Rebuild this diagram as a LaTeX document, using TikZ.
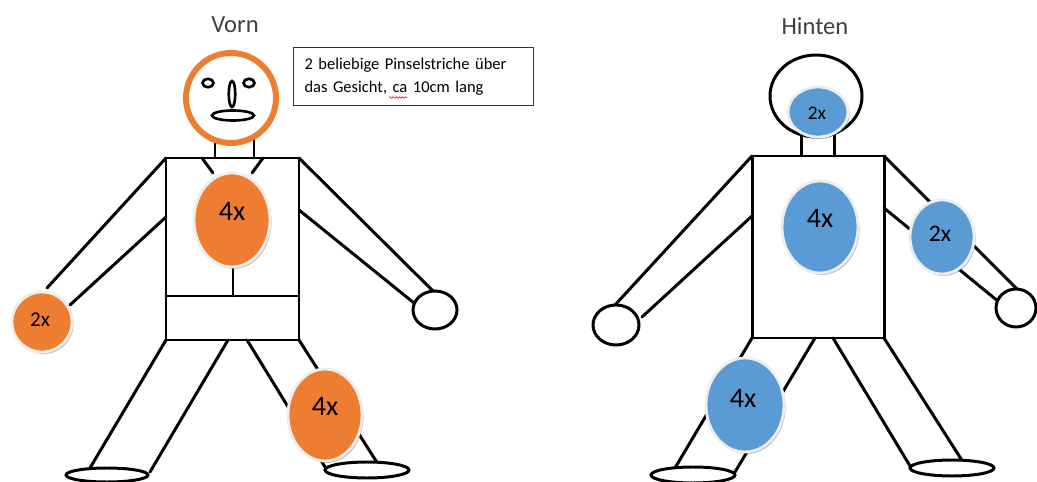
\documentclass[tikz,border=0pt]{standalone}
\usepackage{fontspec}
\setmainfont{Carlito}
\usetikzlibrary{shapes.geometric,shadows,decorations.pathmorphing}
\definecolor{spotorange}{HTML}{ED7D31}
\definecolor{spotblue}{HTML}{5B9BD5}
\definecolor{titlegray}{HTML}{404040}
\begin{document}
\begin{tikzpicture}[x=0.02cm,y=-0.02cm,
  limb/.style={line width=1.7pt,line cap=round},
  oval/.style 2 args={ellipse,draw,fill=white,line width=1.7pt,inner sep=0pt,
    minimum width={2*#1*0.02cm},minimum height={2*#2*0.02cm}},
  spot/.style 2 args={ellipse,inner sep=0pt,draw=white!93!black,line width=1.6pt,
    minimum width={2*#1*0.02cm},minimum height={2*#2*0.02cm},
    drop shadow={shadow xshift=0.9pt,shadow yshift=-1.1pt,opacity=0.45,fill=black!60}},
  orangespot/.style={fill=spotorange},
  bluespot/.style={fill=spotblue},
  count/.style={inner sep=0pt,font=\fontsize{#1}{#1}\selectfont},
  title/.style={text=titlegray,inner sep=0pt,anchor=base,font=\fontsize{14}{16}\selectfont},
  face/.style={line width=1.5pt},
]
\useasboundingbox (0,0) rectangle (1037,482);

% ---------------- front figure ----------------
\node[title] (vorn) at (235,33) {Vorn};

% torso with belt, collar and centre seam
\draw[limb] (166,158) rectangle (299,340);
\draw[limb] (166,296) -- (299,296);
\draw[limb] (233,262) -- (233,296);
\draw[limb] (202,158) -- (213,173);
\draw[limb] (263,158) -- (252,173);
% neck
\draw[limb] (215,136) -- (215,158);
\draw[limb] (254,136) -- (254,158);
% arms
\draw[limb] (166,158) -- (47,288);
\draw[limb] (166,217) -- (70,305);
\draw[limb] (299,158) -- (433,291);
\draw[limb] (299,210) -- (414,303);
\node[oval={22}{19}] (fhandR) at (435,310) {};
% legs and feet
\draw[limb] (166,340) -- (90,468);
\draw[limb] (228,340) -- (150,472);
\draw[limb] (247,340) -- (325,467);
\draw[limb] (299,340) -- (378,464);
\node[oval={41}{7}] (ffootL) at (107,475) {};
\node[oval={42}{8}] (ffootR) at (367,470) {};

% head: orange ring with face
\node[circle,draw=spotorange,fill=white,line width=3.4pt,inner sep=0pt,
  minimum size={2*45*0.02cm},
  drop shadow={shadow xshift=0.6pt,shadow yshift=-1pt,opacity=0.35,fill=black!60}] (fhead) at (231,98) {};
\draw[face] (208,83) ellipse [x radius=0.11cm,y radius=0.085cm];
\draw[face] (249,83) ellipse [x radius=0.11cm,y radius=0.085cm];
\draw[face] (232,94) ellipse [x radius=0.065cm,y radius=0.26cm];
\draw[face] (233,115.5) ellipse [x radius=0.42cm,y radius=0.1cm];

% note box
\node[draw=black!80,line width=0.6pt,anchor=north west,inner xsep=0.22cm,inner ysep=0pt,
  minimum width=4.8cm,minimum height=1.16cm,text width=4.36cm,align=left,
  font=\fontsize{9.4}{13}\selectfont] (note) at (293,47)
  {2 beliebige Pinselstriche über\\das Gesicht, ca 10cm lang};
\draw[red,line width=0.35pt,decorate,
  decoration={snake,amplitude=0.45pt,segment length=1.8pt}] (389,97.5) -- (407,97.5);

% front spots
\node[spot={38}{47},orangespot] (fchest) at (232,220) {};
\node[count=16] (fchestn) at (232,211) {4x};
\node[spot={30}{30},orangespot] (fhandL) at (42,322) {};
\node[count=12] (fhandLn) at (40,320) {2x};
\node[spot={37}{46},orangespot] (fleg) at (325,415) {};
\node[count=16] (flegn) at (325,406) {4x};

% ---------------- back figure ----------------
\node[title] (hinten) at (815,35) {Hinten};

\draw[limb] (752,156) rectangle (884,338);
\draw[limb] (801,130) -- (801,156);
\draw[limb] (834,130) -- (834,156);
\node[oval={46}{41}] (bhead) at (816,96) {};
% arms
\draw[limb] (752,156) -- (615,305);
\draw[limb] (752,216) -- (642,317);
\node[oval={23}{20}] (bhandL) at (616,325) {};
\draw[limb] (884,156) -- (1017,289);
\draw[limb] (884,208) -- (999,302);
\node[oval={20}{19}] (bhandR) at (1016,308) {};
% legs and feet
\draw[limb] (752,338) -- (675,468);
\draw[limb] (815,338) -- (735,472);
\draw[limb] (833,338) -- (910,466);
\draw[limb] (884,338) -- (963,462);
\node[oval={42}{8}] (bfootL) at (693,475) {};
\node[oval={42}{8}] (bfootR) at (952,468) {};

% back spots
\node[spot={30}{25},bluespot] (bhead2) at (818,112) {};
\node[count=11] (bheadn) at (817,113) {2x};
\node[spot={38}{46},bluespot] (bchest) at (820,227) {};
\node[count=16] (bchestn) at (820,218) {4x};
\node[spot={32}{37},bluespot] (barm) at (942,237) {};
\node[count=13.5] (barmn) at (940,234) {2x};
\node[spot={39}{47},bluespot] (bleg) at (745,405) {};
\node[count=16] (blegn) at (743,398) {4x};
\end{tikzpicture}
\end{document}
